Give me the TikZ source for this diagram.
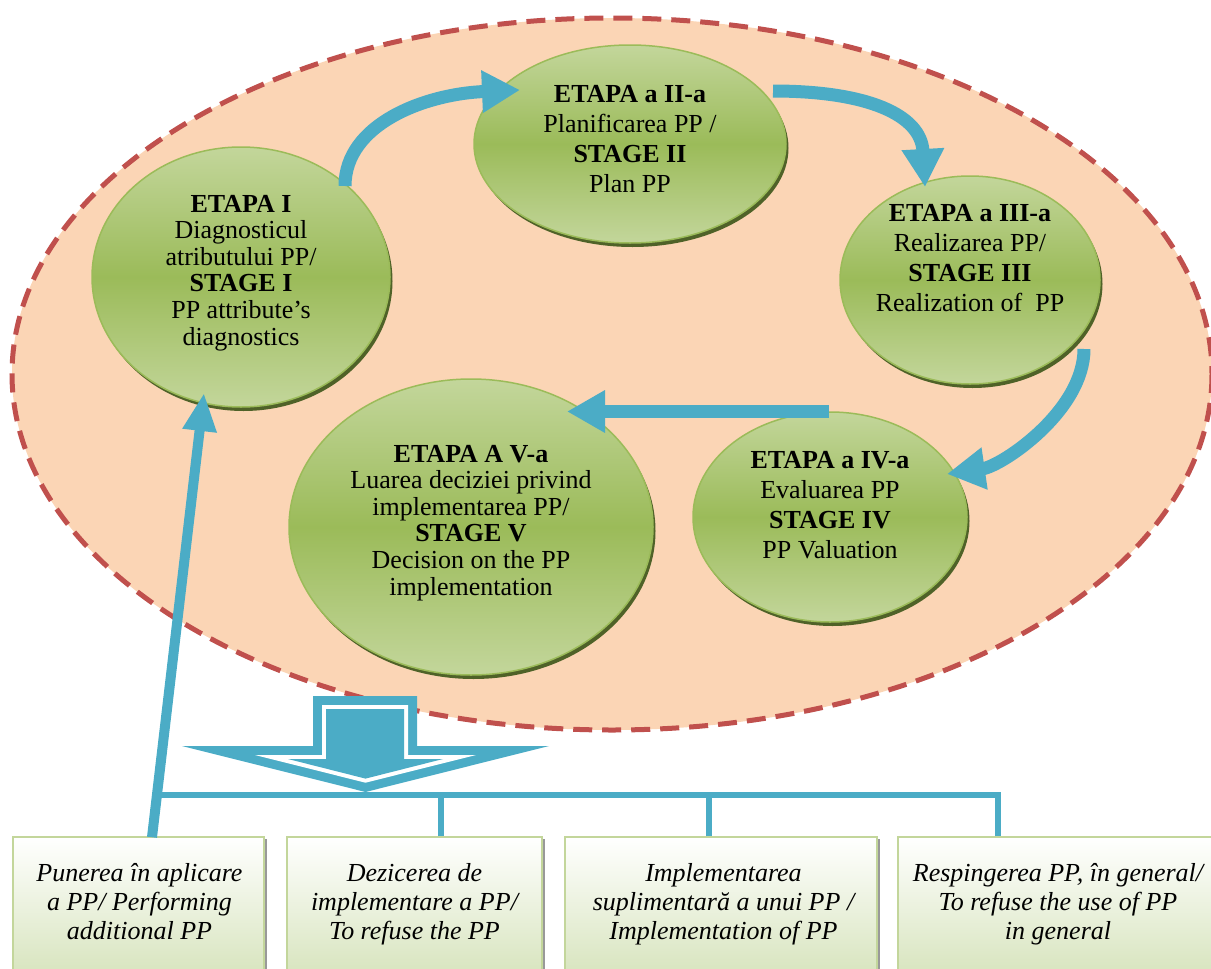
\documentclass[tikz,border=0pt]{standalone}
\usepackage{fontspec}
\setmainfont{Liberation Serif}
\usetikzlibrary{arrows.meta,shadows,shapes.geometric}

\definecolor{peach}{HTML}{FBD5B5}
\definecolor{dashred}{HTML}{C0504D}
\definecolor{flowblue}{HTML}{4BACC6}
\definecolor{greenlight}{HTML}{C3D69B}
\definecolor{greenmid}{HTML}{9BBB59}
\definecolor{greendark}{HTML}{4F6228}
\definecolor{boxgreen}{HTML}{D7E4BD}
\definecolor{boxedge}{HTML}{C3D69B}

\begin{document}
\begin{tikzpicture}[x=1pt,y=-1pt,
  stage/.style={shape=ellipse, inner sep=0pt, draw=greenmid, line width=1.5pt,
    top color=greenlight, bottom color=greenlight, middle color=greenmid,
    drop shadow={shadow xshift=2.5pt, shadow yshift=-4pt, fill=greendark, opacity=1}},
  stagetext/.style={anchor=base, inner sep=0pt, font=\fontsize{26}{26.6}\selectfont},
  stagetextwide/.style={stagetext, font=\fontsize{26}{30}\selectfont},
  outcome/.style={shape=rectangle, inner sep=0pt, draw=boxedge, line width=1.5pt,
    top color=white, bottom color=boxgreen,
    drop shadow={shadow xshift=3pt, shadow yshift=-2pt, fill=black!40, opacity=1}},
  outcometext/.style={anchor=base, inner sep=0pt, font=\fontsize{26}{29}\selectfont\itshape},
  flowarrow/.style={draw=flowblue, line width=13pt, -{Triangle[length=38pt,width=40pt]}},
  bus/.style={draw=flowblue, line width=6pt}]

\useasboundingbox (0,0) rectangle (1211,969);
\clip (0,0) rectangle (1211,969);

% background field
\draw[fill=peach, draw=dashred, line width=5pt, dash pattern=on 19pt off 10pt]
  (612,374) ellipse [x radius=600, y radius=356];

% outcome bus and its down arrow
\coordinate (busL) at (155,795);
\coordinate (busR) at (1001,795);
\draw[bus] (busL) -- (busR);

\fill[flowblue] (313,696) -- (417,696) -- (417,746) -- (549,746) -- (365.5,792)
  -- (182,746) -- (313,746) -- cycle;
\fill[white] (322,705) -- (408,705) -- (408,755) -- (476,755) -- (365.5,782.7)
  -- (255,755) -- (322,755) -- cycle;
\fill[flowblue] (326,709) -- (404,709) -- (404,759) -- (443,759) -- (365.5,778.6)
  -- (288,759) -- (326,759) -- cycle;

% stages
\node[stage, minimum width=298pt, minimum height=260pt] (e1) at (241,277) {};
\node[stage, minimum width=312pt, minimum height=198pt] (e2) at (630,144) {};
\node[stage, minimum width=260pt, minimum height=208pt] (e3) at (970,280) {};
\node[stage, minimum width=274pt, minimum height=210pt] (e4) at (830,517) {};
\node[stage, minimum width=364pt, minimum height=296pt] (e5) at (471,527) {};

\node[stagetext] (t1) at (241,212) {\begin{tabular}[t]{@{}c@{}}\textbf{ETAPA I}\\Diagnosticul\\atributului PP/\\\textbf{STAGE I}\\PP attribute’s\\diagnostics\end{tabular}};
\node[stagetextwide] (t2) at (630,102) {\begin{tabular}[t]{@{}c@{}}\textbf{ETAPA a II-a}\\Planificarea PP /\\\textbf{STAGE II}\\Plan PP\end{tabular}};
\node[stagetextwide] (t3) at (970,221) {\begin{tabular}[t]{@{}c@{}}\textbf{ETAPA a III-a}\\Realizarea PP/\\\textbf{STAGE III}\\Realization of\ \ PP\end{tabular}};
\node[stagetextwide] (t4) at (830,468) {\begin{tabular}[t]{@{}c@{}}\textbf{ETAPA a IV-a}\\Evaluarea PP\\\textbf{STAGE IV}\\PP Valuation\end{tabular}};
\node[stagetext] (t5) at (471,462) {\begin{tabular}[t]{@{}c@{}}\textbf{ETAPA A V-a}\\Luarea deciziei privind\\implementarea PP/\\\textbf{STAGE V}\\Decision on the PP\\implementation\end{tabular}};

% outcomes
\node[outcome, minimum width=251pt, minimum height=140pt] (b1) at (138.5,907) {};
\node[outcome, minimum width=255pt, minimum height=140pt] (b2) at (414.5,907) {};
\node[outcome, minimum width=312pt, minimum height=140pt] (b3) at (721,907) {};
\node[outcome, minimum width=320pt, minimum height=140pt] (b4) at (1058,907) {};

\node[outcometext] (bt1) at (139.5,881) {\begin{tabular}[t]{@{}c@{}}Punerea în aplicare\\a PP/ Performing\\additional PP\end{tabular}};
\node[outcometext] (bt2) at (414.5,881) {\begin{tabular}[t]{@{}c@{}}Dezicerea de\\implementare a PP/\\To refuse the PP\end{tabular}};
\node[outcometext] (bt3) at (723.5,881) {\begin{tabular}[t]{@{}c@{}}Implementarea\\suplimentară a unui PP /\\Implementation of PP\end{tabular}};
\node[outcometext] (bt4) at (1058,881) {\begin{tabular}[t]{@{}c@{}}Respingerea PP, în general/\\To refuse the use of PP\\in general\end{tabular}};

% drops from the bus to the outcomes
\draw[bus] ([shift={(26.5,0)}]b2.north) -- ++(0,-42);
\draw[bus] ([shift={(-12,0)}]b3.north) -- ++(0,-42);
\draw[bus] ([shift={(-60,0)}]b4.north) -- ++(0,-42);

% cycle of stages
\draw[flowarrow] ([shift={(104,-91)}]e1.center) .. controls +(0,-62) and +(-95,4) .. ([shift={(-110,-54)}]e2.center);
\draw[flowarrow] ([shift={(143,-53)}]e2.center) .. controls +(95,0) and +(-4,-72) .. ([shift={(-45,-93)}]e3.center);
\draw[flowarrow] ([shift={(114,69)}]e3.center) .. controls +(0,62) and +(55,-8) .. ([shift={(117,-43)}]e4.center);
\draw[flowarrow] ([shift={(-1,-105.5)}]e4.center) -- ([shift={(96,-115.5)}]e5.center);

% feedback from the first outcome
\draw[flowblue, line width=10pt, -{Triangle[length=38pt,width=32pt]}]
  ([shift={(13.5,1)}]b1.north) -- ([shift={(-37,116)}]e1.center);

\end{tikzpicture}
\end{document}
